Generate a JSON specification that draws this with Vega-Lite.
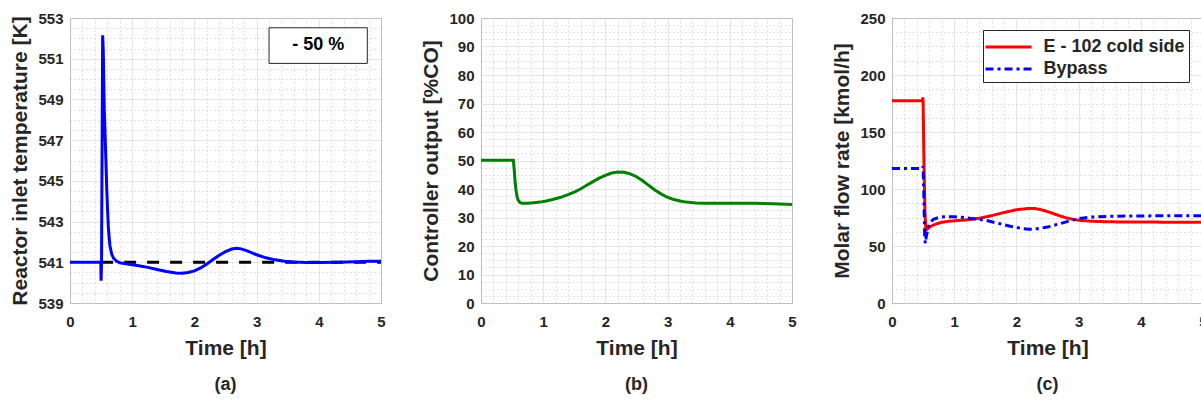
{
  "$schema": "https://vega.github.io/schema/vega-lite/v6.json",
  "padding": {"left": 9, "top": 10, "right": 0, "bottom": 0},
  "spacing": 100,
  "bounds": "flush",
  "datasets": {
    "temp": [
      {"t": 0, "T": 541.0}, {"t": 0.3, "T": 541.0}, {"t": 0.495, "T": 541.0}, {"t": 0.5, "T": 540.1},
      {"t": 0.507, "T": 541.0}, {"t": 0.525, "T": 552.15}, {"t": 0.535, "T": 551.4}, {"t": 0.545, "T": 549.6},
      {"t": 0.552, "T": 548.3}, {"t": 0.56, "T": 547.7}, {"t": 0.575, "T": 546.2}, {"t": 0.59, "T": 544.7},
      {"t": 0.605, "T": 543.5}, {"t": 0.616, "T": 542.75}, {"t": 0.63, "T": 542.2}, {"t": 0.643, "T": 541.8},
      {"t": 0.67, "T": 541.4}, {"t": 0.7, "T": 541.2}, {"t": 0.75, "T": 541.05}, {"t": 0.8, "T": 540.98},
      {"t": 0.9, "T": 540.93}, {"t": 1.0, "T": 540.88}, {"t": 1.13, "T": 540.82}, {"t": 1.25, "T": 540.75},
      {"t": 1.4, "T": 540.65}, {"t": 1.55, "T": 540.55}, {"t": 1.7, "T": 540.47}, {"t": 1.8, "T": 540.46},
      {"t": 1.9, "T": 540.5}, {"t": 2.0, "T": 540.58}, {"t": 2.1, "T": 540.72}, {"t": 2.2, "T": 540.92},
      {"t": 2.3, "T": 541.14}, {"t": 2.4, "T": 541.35}, {"t": 2.5, "T": 541.52}, {"t": 2.6, "T": 541.65},
      {"t": 2.68, "T": 541.69}, {"t": 2.75, "T": 541.66}, {"t": 2.85, "T": 541.56}, {"t": 3.0, "T": 541.37},
      {"t": 3.15, "T": 541.22}, {"t": 3.3, "T": 541.12}, {"t": 3.45, "T": 541.05}, {"t": 3.6, "T": 541.01},
      {"t": 3.8, "T": 540.99}, {"t": 4.0, "T": 540.99}, {"t": 4.3, "T": 541.0}, {"t": 4.6, "T": 541.03},
      {"t": 4.8, "T": 541.05}, {"t": 5.0, "T": 541.05}
    ],
    "sp": [{"t": 0.5, "T": 541}, {"t": 5, "T": 541}],
    "note": [{"label": "- 50 %"}],
    "co": [
      {"t": 0, "u": 50.1}, {"t": 0.3, "u": 50.1}, {"t": 0.52, "u": 50.1}, {"t": 0.535, "u": 46.5},
      {"t": 0.55, "u": 42.0}, {"t": 0.563, "u": 39.6}, {"t": 0.58, "u": 37.3}, {"t": 0.6, "u": 36.0},
      {"t": 0.63, "u": 35.2}, {"t": 0.66, "u": 35.0}, {"t": 0.75, "u": 35.0}, {"t": 0.85, "u": 35.2},
      {"t": 0.95, "u": 35.4}, {"t": 1.05, "u": 35.8}, {"t": 1.15, "u": 36.3}, {"t": 1.27, "u": 37.0},
      {"t": 1.4, "u": 38.0}, {"t": 1.5, "u": 38.9}, {"t": 1.6, "u": 40.0}, {"t": 1.7, "u": 41.3},
      {"t": 1.8, "u": 42.6}, {"t": 1.9, "u": 43.8}, {"t": 2.0, "u": 44.8}, {"t": 2.1, "u": 45.6},
      {"t": 2.2, "u": 46.0}, {"t": 2.3, "u": 45.9}, {"t": 2.4, "u": 45.3}, {"t": 2.5, "u": 44.3},
      {"t": 2.6, "u": 42.9}, {"t": 2.7, "u": 41.2}, {"t": 2.8, "u": 39.6}, {"t": 2.9, "u": 38.2},
      {"t": 3.0, "u": 37.1}, {"t": 3.1, "u": 36.3}, {"t": 3.2, "u": 35.8}, {"t": 3.3, "u": 35.4},
      {"t": 3.45, "u": 35.1}, {"t": 3.6, "u": 35.0}, {"t": 4.0, "u": 35.0}, {"t": 4.4, "u": 35.0},
      {"t": 4.7, "u": 34.8}, {"t": 5.0, "u": 34.6}
    ],
    "flow": [
      {"s": "E - 102 cold side", "t": 0, "F": 177.5}, {"s": "E - 102 cold side", "t": 0.3, "F": 177.5},
      {"s": "E - 102 cold side", "t": 0.49, "F": 177.5}, {"s": "E - 102 cold side", "t": 0.495, "F": 180.4},
      {"s": "E - 102 cold side", "t": 0.5, "F": 177}, {"s": "E - 102 cold side", "t": 0.515, "F": 120},
      {"s": "E - 102 cold side", "t": 0.53, "F": 80}, {"s": "E - 102 cold side", "t": 0.545, "F": 64},
      {"s": "E - 102 cold side", "t": 0.56, "F": 64.5}, {"s": "E - 102 cold side", "t": 0.6, "F": 66.5},
      {"s": "E - 102 cold side", "t": 0.65, "F": 68}, {"s": "E - 102 cold side", "t": 0.7, "F": 69.2},
      {"s": "E - 102 cold side", "t": 0.8, "F": 70.8}, {"s": "E - 102 cold side", "t": 0.9, "F": 71.6},
      {"s": "E - 102 cold side", "t": 1.0, "F": 72.1}, {"s": "E - 102 cold side", "t": 1.2, "F": 72.9},
      {"s": "E - 102 cold side", "t": 1.4, "F": 74.3}, {"s": "E - 102 cold side", "t": 1.6, "F": 76.6},
      {"s": "E - 102 cold side", "t": 1.8, "F": 79.4}, {"s": "E - 102 cold side", "t": 2.0, "F": 81.8},
      {"s": "E - 102 cold side", "t": 2.2, "F": 83.0}, {"s": "E - 102 cold side", "t": 2.3, "F": 82.8},
      {"s": "E - 102 cold side", "t": 2.4, "F": 81.8}, {"s": "E - 102 cold side", "t": 2.5, "F": 80.2},
      {"s": "E - 102 cold side", "t": 2.6, "F": 78.3}, {"s": "E - 102 cold side", "t": 2.7, "F": 76.4},
      {"s": "E - 102 cold side", "t": 2.8, "F": 74.7}, {"s": "E - 102 cold side", "t": 2.9, "F": 73.5},
      {"s": "E - 102 cold side", "t": 3.0, "F": 72.6}, {"s": "E - 102 cold side", "t": 3.2, "F": 71.7},
      {"s": "E - 102 cold side", "t": 3.5, "F": 71.2}, {"s": "E - 102 cold side", "t": 4.0, "F": 71.0},
      {"s": "E - 102 cold side", "t": 5.0, "F": 70.8},
      {"s": "Bypass", "t": 0, "F": 118}, {"s": "Bypass", "t": 0.3, "F": 118}, {"s": "Bypass", "t": 0.49, "F": 118},
      {"s": "Bypass", "t": 0.5, "F": 120}, {"s": "Bypass", "t": 0.51, "F": 100}, {"s": "Bypass", "t": 0.525, "F": 60},
      {"s": "Bypass", "t": 0.535, "F": 52.3}, {"s": "Bypass", "t": 0.55, "F": 58}, {"s": "Bypass", "t": 0.585, "F": 67},
      {"s": "Bypass", "t": 0.62, "F": 71}, {"s": "Bypass", "t": 0.665, "F": 73.4}, {"s": "Bypass", "t": 0.75, "F": 75},
      {"s": "Bypass", "t": 0.85, "F": 75.7}, {"s": "Bypass", "t": 1.0, "F": 75.6}, {"s": "Bypass", "t": 1.12, "F": 75.2},
      {"s": "Bypass", "t": 1.3, "F": 74}, {"s": "Bypass", "t": 1.5, "F": 72.6}, {"s": "Bypass", "t": 1.7, "F": 70},
      {"s": "Bypass", "t": 1.9, "F": 67.3}, {"s": "Bypass", "t": 2.1, "F": 65.2}, {"s": "Bypass", "t": 2.2, "F": 64.6},
      {"s": "Bypass", "t": 2.3, "F": 64.8}, {"s": "Bypass", "t": 2.5, "F": 66.6}, {"s": "Bypass", "t": 2.7, "F": 69.6},
      {"s": "Bypass", "t": 2.85, "F": 72}, {"s": "Bypass", "t": 3.0, "F": 74}, {"s": "Bypass", "t": 3.2, "F": 75.4},
      {"s": "Bypass", "t": 3.5, "F": 76.1}, {"s": "Bypass", "t": 4.0, "F": 76.4}, {"s": "Bypass", "t": 5.0, "F": 76.6}
    ]
  },
  "hconcat": [
    {
      "width": 311, "height": 285,
      "title": {"text": "(a)"},
      "layer": [
        {"data": {"name": "sp"}, "mark": {"type": "line", "color": "#000000", "strokeWidth": 3, "strokeDash": [12, 11]},
          "encoding": {
            "x": {"field": "t", "type": "quantitative", "scale": {"domain": [0, 5], "nice": false},
              "axis": {"title": "Time [h]",
                "values": [0,0.2,0.4,0.6,0.8,1,1.2,1.4,1.6,1.8,2,2.2,2.4,2.6,2.8,3,3.2,3.4,3.6,3.8,4,4.2,4.4,4.6,4.8,5],
                "labelExpr": "datum.value % 1 === 0 ? format(datum.value, 'd') : ''",
                "gridColor": {"condition": {"test": "datum.value % 1 === 0", "value": "#dcdcdc"}, "value": "#c4c4c4"},
                "gridDash": {"condition": {"test": "datum.value % 1 === 0", "value": [1, 0]}, "value": [1, 3]}}},
            "y": {"field": "T", "type": "quantitative", "scale": {"domain": [539, 553], "nice": false, "zero": false},
              "axis": {"title": "Reactor inlet temperature [K]",
                "values": [539,539.5,540,540.5,541,541.5,542,542.5,543,543.5,544,544.5,545,545.5,546,546.5,547,547.5,548,548.5,549,549.5,550,550.5,551,551.5,552,552.5,553],
                "labelExpr": "(datum.value - 539) % 2 === 0 ? format(datum.value, 'd') : ''",
                "gridColor": {"condition": {"test": "(datum.value - 539) % 2 === 0", "value": "#dcdcdc"}, "value": "#c4c4c4"},
                "gridDash": {"condition": {"test": "(datum.value - 539) % 2 === 0", "value": [1, 0]}, "value": [1, 3]}}}
          }},
        {"data": {"name": "temp"}, "mark": {"type": "line", "color": "#0000ff", "strokeWidth": 3},
          "encoding": {
            "x": {"field": "t", "type": "quantitative", "scale": {"domain": [0, 5], "nice": false},
              "axis": {"title": "Time [h]",
                "values": [0,0.2,0.4,0.6,0.8,1,1.2,1.4,1.6,1.8,2,2.2,2.4,2.6,2.8,3,3.2,3.4,3.6,3.8,4,4.2,4.4,4.6,4.8,5],
                "labelExpr": "datum.value % 1 === 0 ? format(datum.value, 'd') : ''",
                "gridColor": {"condition": {"test": "datum.value % 1 === 0", "value": "#dcdcdc"}, "value": "#c4c4c4"},
                "gridDash": {"condition": {"test": "datum.value % 1 === 0", "value": [1, 0]}, "value": [1, 3]}}},
            "y": {"field": "T", "type": "quantitative", "scale": {"domain": [539, 553], "nice": false, "zero": false},
              "axis": {"title": "Reactor inlet temperature [K]",
                "values": [539,539.5,540,540.5,541,541.5,542,542.5,543,543.5,544,544.5,545,545.5,546,546.5,547,547.5,548,548.5,549,549.5,550,550.5,551,551.5,552,552.5,553],
                "labelExpr": "(datum.value - 539) % 2 === 0 ? format(datum.value, 'd') : ''",
                "gridColor": {"condition": {"test": "(datum.value - 539) % 2 === 0", "value": "#dcdcdc"}, "value": "#c4c4c4"},
                "gridDash": {"condition": {"test": "(datum.value - 539) % 2 === 0", "value": [1, 0]}, "value": [1, 3]}}}
          }},
        {"data": {"name": "note"}, "mark": {"type": "rect", "fill": "#ffffff", "stroke": "#262626", "strokeWidth": 1},
          "encoding": {
            "x": {"datum": 3.2, "type": "quantitative", "scale": {"domain": [0, 5], "nice": false},
              "axis": {"title": "Time [h]",
                "values": [0,0.2,0.4,0.6,0.8,1,1.2,1.4,1.6,1.8,2,2.2,2.4,2.6,2.8,3,3.2,3.4,3.6,3.8,4,4.2,4.4,4.6,4.8,5],
                "labelExpr": "datum.value % 1 === 0 ? format(datum.value, 'd') : ''",
                "gridColor": {"condition": {"test": "datum.value % 1 === 0", "value": "#dcdcdc"}, "value": "#c4c4c4"},
                "gridDash": {"condition": {"test": "datum.value % 1 === 0", "value": [1, 0]}, "value": [1, 3]}}},
            "x2": {"datum": 4.78},
            "y": {"datum": 552.52, "type": "quantitative", "scale": {"domain": [539, 553], "nice": false, "zero": false},
              "axis": {"title": "Reactor inlet temperature [K]",
                "values": [539,539.5,540,540.5,541,541.5,542,542.5,543,543.5,544,544.5,545,545.5,546,546.5,547,547.5,548,548.5,549,549.5,550,550.5,551,551.5,552,552.5,553],
                "labelExpr": "(datum.value - 539) % 2 === 0 ? format(datum.value, 'd') : ''",
                "gridColor": {"condition": {"test": "(datum.value - 539) % 2 === 0", "value": "#dcdcdc"}, "value": "#c4c4c4"},
                "gridDash": {"condition": {"test": "(datum.value - 539) % 2 === 0", "value": [1, 0]}, "value": [1, 3]}}},
            "y2": {"datum": 550.77}}},
        {"data": {"name": "note"}, "mark": {"type": "text", "fontSize": 18, "fontWeight": "bold", "color": "#000000", "align": "center", "baseline": "middle"},
          "encoding": {
            "x": {"datum": 3.99, "type": "quantitative", "scale": {"domain": [0, 5], "nice": false},
              "axis": {"title": "Time [h]",
                "values": [0,0.2,0.4,0.6,0.8,1,1.2,1.4,1.6,1.8,2,2.2,2.4,2.6,2.8,3,3.2,3.4,3.6,3.8,4,4.2,4.4,4.6,4.8,5],
                "labelExpr": "datum.value % 1 === 0 ? format(datum.value, 'd') : ''",
                "gridColor": {"condition": {"test": "datum.value % 1 === 0", "value": "#dcdcdc"}, "value": "#c4c4c4"},
                "gridDash": {"condition": {"test": "datum.value % 1 === 0", "value": [1, 0]}, "value": [1, 3]}}},
            "y": {"datum": 551.65, "type": "quantitative", "scale": {"domain": [539, 553], "nice": false, "zero": false},
              "axis": {"title": "Reactor inlet temperature [K]",
                "values": [539,539.5,540,540.5,541,541.5,542,542.5,543,543.5,544,544.5,545,545.5,546,546.5,547,547.5,548,548.5,549,549.5,550,550.5,551,551.5,552,552.5,553],
                "labelExpr": "(datum.value - 539) % 2 === 0 ? format(datum.value, 'd') : ''",
                "gridColor": {"condition": {"test": "(datum.value - 539) % 2 === 0", "value": "#dcdcdc"}, "value": "#c4c4c4"},
                "gridDash": {"condition": {"test": "(datum.value - 539) % 2 === 0", "value": [1, 0]}, "value": [1, 3]}}},
            "text": {"field": "label", "type": "nominal"}}}
      ]
    },
    {
      "width": 311, "height": 285,
      "title": {"text": "(b)"},
      "data": {"name": "co"},
      "mark": {"type": "line", "color": "#008000", "strokeWidth": 3},
      "encoding": {
        "x": {"field": "t", "type": "quantitative", "scale": {"domain": [0, 5], "nice": false},
          "axis": {"title": "Time [h]",
            "values": [0,0.2,0.4,0.6,0.8,1,1.2,1.4,1.6,1.8,2,2.2,2.4,2.6,2.8,3,3.2,3.4,3.6,3.8,4,4.2,4.4,4.6,4.8,5],
            "labelExpr": "datum.value % 1 === 0 ? format(datum.value, 'd') : ''",
            "gridColor": {"condition": {"test": "datum.value % 1 === 0", "value": "#dcdcdc"}, "value": "#c4c4c4"},
            "gridDash": {"condition": {"test": "datum.value % 1 === 0", "value": [1, 0]}, "value": [1, 3]}}},
        "y": {"field": "u", "type": "quantitative", "scale": {"domain": [0, 100], "nice": false},
          "axis": {"title": "Controller output [%CO]",
            "values": [0,2.5,5,7.5,10,12.5,15,17.5,20,22.5,25,27.5,30,32.5,35,37.5,40,42.5,45,47.5,50,52.5,55,57.5,60,62.5,65,67.5,70,72.5,75,77.5,80,82.5,85,87.5,90,92.5,95,97.5,100],
            "labelExpr": "datum.value % 10 === 0 ? format(datum.value, 'd') : ''",
            "gridColor": {"condition": {"test": "datum.value % 10 === 0", "value": "#dcdcdc"}, "value": "#c4c4c4"},
            "gridDash": {"condition": {"test": "datum.value % 10 === 0", "value": [1, 0]}, "value": [1, 3]}}}
      }
    },
    {
      "width": 311, "height": 285,
      "title": {"text": "(c)"},
      "data": {"name": "flow"},
      "mark": {"type": "line", "strokeWidth": 3},
      "encoding": {
        "x": {"field": "t", "type": "quantitative", "scale": {"domain": [0, 5], "nice": false},
          "axis": {"title": "Time [h]",
            "values": [0,0.2,0.4,0.6,0.8,1,1.2,1.4,1.6,1.8,2,2.2,2.4,2.6,2.8,3,3.2,3.4,3.6,3.8,4,4.2,4.4,4.6,4.8,5],
            "labelExpr": "datum.value % 1 === 0 ? format(datum.value, 'd') : ''",
            "gridColor": {"condition": {"test": "datum.value % 1 === 0", "value": "#dcdcdc"}, "value": "#c4c4c4"},
            "gridDash": {"condition": {"test": "datum.value % 1 === 0", "value": [1, 0]}, "value": [1, 3]}}},
        "y": {"field": "F", "type": "quantitative", "scale": {"domain": [0, 250], "nice": false},
          "axis": {"title": "Molar flow rate [kmol/h]",
            "values": [0,12.5,25,37.5,50,62.5,75,87.5,100,112.5,125,137.5,150,162.5,175,187.5,200,212.5,225,237.5,250],
            "labelExpr": "datum.value % 50 === 0 ? format(datum.value, 'd') : ''",
            "gridColor": {"condition": {"test": "datum.value % 50 === 0", "value": "#dcdcdc"}, "value": "#c4c4c4"},
            "gridDash": {"condition": {"test": "datum.value % 50 === 0", "value": [1, 0]}, "value": [1, 3]}}},
        "color": {"field": "s", "type": "nominal",
          "scale": {"domain": ["E - 102 cold side", "Bypass"], "range": ["#ff0000", "#0000ff"]},
          "legend": {"title": null, "orient": "none", "legendX": 913, "legendY": 12, "direction": "vertical",
            "labelFontSize": 18, "labelFontWeight": "bold", "labelColor": "#262626",
            "symbolType": "M-2,0H2", "symbolSize": 529, "symbolStrokeWidth": 3,
            "symbolOffset": 8.5, "labelOffset": 22, "padding": 4, "rowPadding": 0,
            "strokeColor": "#262626", "fillColor": "#ffffff"}},
        "strokeDash": {"field": "s", "type": "nominal",
          "scale": {"domain": ["E - 102 cold side", "Bypass"], "range": [[1, 0], [8, 4, 3, 4]]},
          "legend": {"title": null, "orient": "none", "legendX": 913, "legendY": 12, "direction": "vertical",
            "labelFontSize": 18, "labelFontWeight": "bold", "labelColor": "#262626",
            "symbolType": "M-2,0H2", "symbolSize": 529, "symbolStrokeWidth": 3,
            "symbolOffset": 8.5, "labelOffset": 22, "padding": 4, "rowPadding": 0,
            "strokeColor": "#262626", "fillColor": "#ffffff"}}
      }
    }
  ],
  "config": {
    "font": "Liberation Sans",
    "view": {"stroke": "#666666", "strokeWidth": 1},
    "axis": {"domain": false, "ticks": false, "labelFontSize": 15, "labelFontWeight": "bold", "labelColor": "#262626",
      "titleFontSize": 21, "titleFontWeight": "bold", "titleColor": "#262626", "labelOverlap": false, "labelFlush": false, "gridOpacity": 1},
    "axisX": {"labelPadding": 11, "titlePadding": 8},
    "axisY": {"labelPadding": 7, "titlePadding": 7},
    "title": {"fontSize": 18, "fontWeight": "bold", "color": "#262626", "orient": "bottom", "anchor": "middle", "frame": "group", "offset": 18}
  }
}
